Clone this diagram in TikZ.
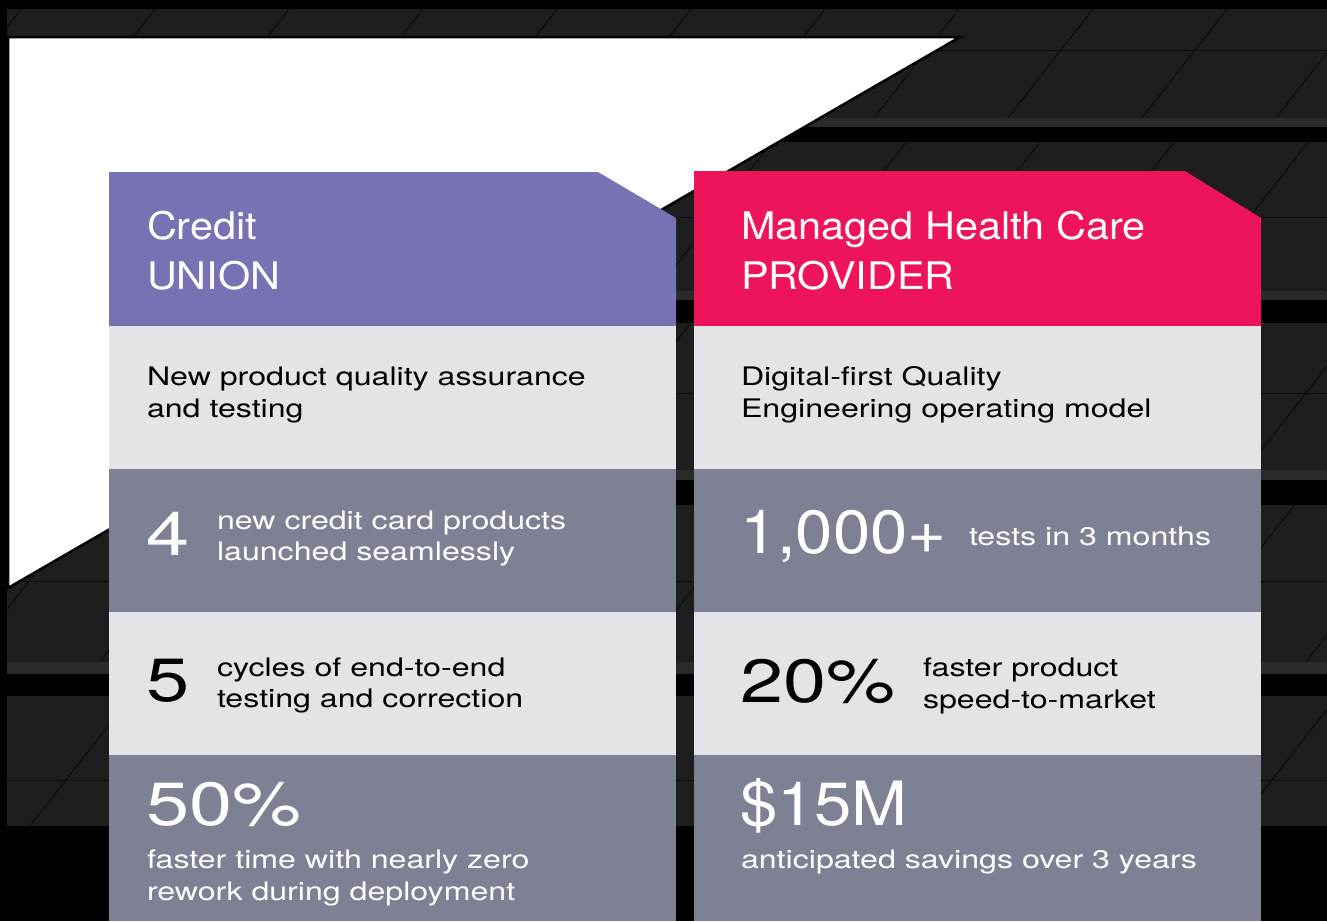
\documentclass[tikz,border=0pt]{standalone}
\usepackage{fontspec}
\setmainfont{TeX Gyre Heros}
\newfontfamily\hdfont[FakeStretch=1.09]{TeX Gyre Heros}
\newfontfamily\bodyfont[FakeStretch=1.26]{TeX Gyre Heros}
\newfontfamily\numfont[FakeStretch=1.27]{TeX Gyre Heros}
\newfontfamily\numnarrow[FakeStretch=1.1]{TeX Gyre Heros}
\definecolor{panel}{HTML}{1E1E1E}
\definecolor{bandlight}{HTML}{2A2A2A}
\definecolor{tileline}{HTML}{0E0E0E}
\definecolor{cupurple}{HTML}{7672B4}
\definecolor{mhpink}{HTML}{EE1459}
\definecolor{rowlight}{HTML}{E4E3E8}
\definecolor{rowgrey}{HTML}{7E8194}
% two lines of text, the block's baseline being that of the first line
\newcommand\twoln[3]{\vtop{\baselineskip=#1pt\lineskiplimit=-100pt\hbox{#2}\hbox{#3}}}
\tikzset{
  txt/.style={anchor=base west, inner sep=0pt, outer sep=0pt},
  hd/.style={txt, text=white, font=\hdfont\fontsize{38}{38}\selectfont},
  body/.style={txt, font=\bodyfont\fontsize{25.5}{30}\selectfont},
  big/.style={txt, font=\numfont\fontsize{61}{61}\selectfont},
  bign/.style={txt, font=\numnarrow\fontsize{61}{61}\selectfont},
  tline/.style={draw=tileline, line width=1.1pt},
  seam/.style={draw=tileline, line width=0.9pt},
}
\begin{document}
\begin{tikzpicture}[x=1pt,y=-1pt]
\useasboundingbox (0,0) rectangle (1327,921);
\fill[black] (0,0) rectangle (1327,921);
% textured dark roof panel
\begin{scope}
  \clip (7,9) rectangle (1327,826);
  \fill[panel] (7,9) rectangle (1327,826);
  \foreach \ya/\yb/\o in {9/118/70, 142/291/120, 323/470/40, 505/662/100, 696/826/30}{
    \foreach \k in {-2,...,10}{
      \draw[tline] ({\o+134*\k},\yb) -- ({\o+134*\k+0.78*(\yb-\ya)},\ya);
    }
  }
  \foreach \y in {50,217,393,581,780}{
    \draw[seam] (7,\y) -- (1327,\y);
  }
  \foreach \a/\b/\c in {118/127/142, 291/300/323, 470/480/505, 662/674/696}{
    \fill[bandlight] (7,\a) rectangle (1327,\b);
    \fill[black] (7,\b) rectangle (1327,\c);
  }
\end{scope}
% white triangle
\filldraw[fill=white, draw=black, line width=2.5pt, line join=miter] (8,37) -- (960,37) -- (8,588) -- cycle;
\fill[black] (0,0) rectangle (7,921);

% ===== left card =====
\fill[cupurple] (109,172) -- (598,172) -- (676,218) -- (676,326) -- (109,326) -- cycle;
\fill[rowlight] (109,326) rectangle (676,469);
\fill[rowgrey]  (109,469) rectangle (676,612);
\fill[rowlight] (109,612) rectangle (676,755);
\fill[rowgrey]  (109,755) rectangle (676,921);

% ===== right card =====
\fill[mhpink] (694,171) -- (1185,171) -- (1261,218) -- (1261,326) -- (694,326) -- cycle;
\fill[rowlight] (694,326) rectangle (1261,469);
\fill[rowgrey]  (694,469) rectangle (1261,612);
\fill[rowlight] (694,612) rectangle (1261,755);
\fill[rowgrey]  (694,755) rectangle (1261,921);

% ----- left card texts -----
\node[hd] (cuHead) at (147,239) {\twoln{50}{Credit}{UNION}};
\node[body, text=black] (cuR1) at (147,385) {\twoln{32.5}{New product quality assurance}{and testing}};
\node[big, text=white] (cuN2) at (146,555) {4};
\node[body, text=white] (cuR2) at (217,529) {\twoln{31}{new credit card products}{launched seamlessly}};
\node[big, text=black] (cuN3) at (146,701) {5};
\node[body, text=black] (cuR3) at (217,676) {\twoln{31.5}{cycles of end-to-end}{testing and correction}};
\node[big, text=white] (cuN4) at (146,825) {50\%};
\node[body, text=white] (cuR4) at (147,868) {\twoln{32}{faster time with nearly zero}{rework during deployment}};

% ----- right card texts -----
\node[hd] (mhHead) at (741,239) {\twoln{50}{Managed Health Care}{PROVIDER}};
\node[body, text=black] (mhR1) at (741,385) {\twoln{32.5}{Digital-first Quality}{Engineering operating model}};
\node[bign, text=white] (mhN2) at (740,553) {1,000+};
\node[body, text=white] (mhR2) at (969,545) {tests in 3 months};
\node[big, text=black] (mhN3) at (740,702) {20\%};
\node[body, text=black] (mhR3) at (923,676) {\twoln{32}{faster product}{speed-to-market}};
\node[bign, text=white] (mhN4) at (740,825) {\$15M};
\node[body, text=white] (mhR4) at (741,868) {anticipated savings over 3 years};
\end{tikzpicture}
\end{document}
